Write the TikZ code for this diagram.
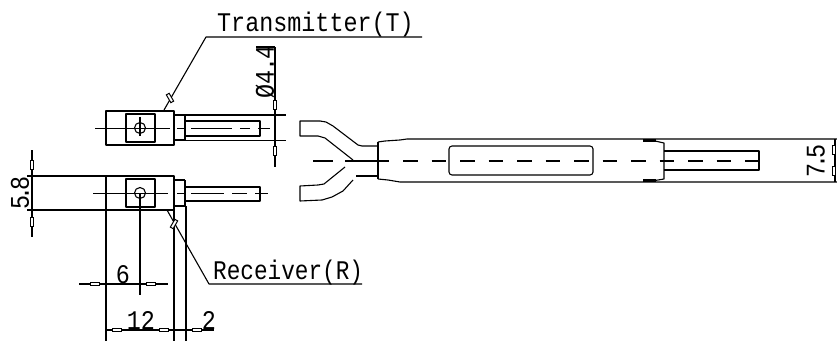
\documentclass[tikz,border=0pt]{standalone}
\usepackage{fontspec}
\setmainfont{Liberation Mono}
\newcommand{\tightdot}{\kern-4.5pt.\kern-4.5pt}
\newcommand{\looseDot}{\kern-2pt.\kern-2pt}
\tikzset{
  ln/.style={line width=1.1pt,black,line join=round},
  thk/.style={line width=2.4pt,black},
  cad/.style={inner sep=0pt,font=\fontsize{23.4}{23.4}\selectfont,yscale=1.15},
  tick/.pic={\draw[line width=1pt,fill=white] (-4.5,-1.6) rectangle (4.5,1.6);},
}
\begin{document}
\begin{tikzpicture}[x=1pt,y=-1pt]
\useasboundingbox (0,0) rectangle (837,342);
% transmitter
\draw[ln] (106,111) rectangle (174,145);
\draw[ln] (126,114) rectangle (155,142);
\draw[ln] (140,128) circle (5.5);
\draw[ln] (95,128.5) -- (170,128.5);
\draw[ln] (140,117) -- (140,136);
\draw[ln] (174,115) -- (184,115);
\draw[ln] (174,140) -- (184,140);
\draw[thk] (185,115) -- (185,140);
\draw[ln] (186,121) -- (260,121) -- (260,136) -- (186,136);
\draw[ln] (177,128.5) -- (185,128.5);
\draw[ln] (191,128.5) -- (232,128.5) (240,128.5) -- (250,128.5) (258,128.5) -- (270,128.5);
\draw[ln] (184,115) -- (286,115) (184,140.5) -- (286,140.5);
\draw[ln] (275,47) -- (275,167);
\draw[ln] (256,47) -- (275,47);
\path (275,105) pic[rotate=90] {tick} (275,151) pic[rotate=90] {tick};
\node[rotate=90,cad] (d44) at (265,72) {Ø4\looseDot 4};
\coordinate (tleadA) at (164,110);
\coordinate (tleadB) at (206,37);
\coordinate (tleadC) at (422,37);
\draw[ln] (tleadA) -- (tleadB) -- (tleadC);
\path (170,98) pic[rotate=-60] {tick};
\node[cad,anchor=base west] (tx) at (217,32) {Transmitter(T)};
% receiver
\draw[ln] (27,176) -- (174,176) -- (174,210) -- (27,210);
\draw[ln] (126,179) rectangle (155,207);
\draw[ln] (140,193) circle (5.5);
\draw[ln] (93,193.5) -- (168,193.5);
\draw[ln] (174,180) -- (185,180) (174,206) -- (185,206);
\draw[thk] (185,180) -- (185,206);
\draw[ln] (186,187) -- (260,187) -- (260,201) -- (186,201);
\draw[ln] (177,193.5) -- (185,193.5) (191,193.5) -- (224,193.5) (232,193.5) -- (247,193.5) (255,193.5) -- (268,193.5);
\draw[ln] (32,150) -- (32,237);
\path (32,165) pic[rotate=90] {tick} (32,222) pic[rotate=90] {tick};
\node[rotate=90,cad] (d58) at (20,193) {5\tightdot 8};
\draw[ln] (106,176) -- (106,341) (174,176) -- (174,341) (186,206) -- (186,341);
\draw[ln] (140,193) -- (140,295);
\draw[ln] (79,284) -- (168,284);
\path (95,284) pic {tick} (151,284) pic {tick};
\node[cad] (d6) at (123,275) {6};
\draw[ln] (106,330) -- (214,330);
\path (117,330) pic {tick} (164,330) pic {tick} (197,330) pic {tick};
\node[cad] (d12) at (141,320) {12};
\node[cad] (d2) at (209,320) {2};
\coordinate (rleadA) at (167,210);
\coordinate (rleadB) at (209,284);
\coordinate (rleadC) at (362,284);
\draw[ln] (rleadA) -- (rleadB) -- (rleadC);
\path (174,224) pic[rotate=60] {tick};
\node[cad,xscale=.97,anchor=base west] (rx) at (213,279) {Receiver(R)};
% fork
\draw[ln] (320,121) -- (300,121) -- (300,136) -- (318,136) -- (325,138) -- (353,160);
\draw[ln] (320,121) -- (326,122) -- (333,126) -- (358,145) -- (362,146) -- (378,146);
\draw[ln] (345,167) -- (324,184) -- (318,185) -- (300,186) -- (300,201) -- (322,200) -- (332,197) -- (343,191) -- (353,180);
\draw[ln] (356,176) -- (378,176);
\draw[line width=2.2pt] (350,161) -- (358,161);
% body
\draw[ln] (378,142) -- (378,179);
\draw[ln] (378,142) -- (385,141) -- (400,140) -- (407,139) -- (837,139);
\draw[ln] (378,179) -- (388,180) -- (400,182) -- (837,182);
\draw[ln] (643,141) -- (655,141) -- (664,143) -- (664,179) -- (655,180.5) -- (643,180.5);
\draw[thk] (643,140.5) -- (656,140.5) (643,180.5) -- (656,180.5);
\draw[ln,rounded corners=3pt] (449,146) rectangle (593,175);
\draw[ln] (664,151) -- (759,151) -- (759,170) -- (664,170);
\draw[ln] (355,161) -- (389,161);
\draw[ln] (313,161) -- (333,161) (345,161) -- (353,161);
\draw[ln,dash pattern=on 14.5pt off 14pt] (403,161) -- (763,161);
% 7.5
\draw[ln] (835,139) -- (835,182);
\path (834,150) pic[rotate=90] {tick} (834,171) pic[rotate=90] {tick};
\node[rotate=90,cad] (d75) at (816,161) {7\tightdot 5};
\end{tikzpicture}
\end{document}
